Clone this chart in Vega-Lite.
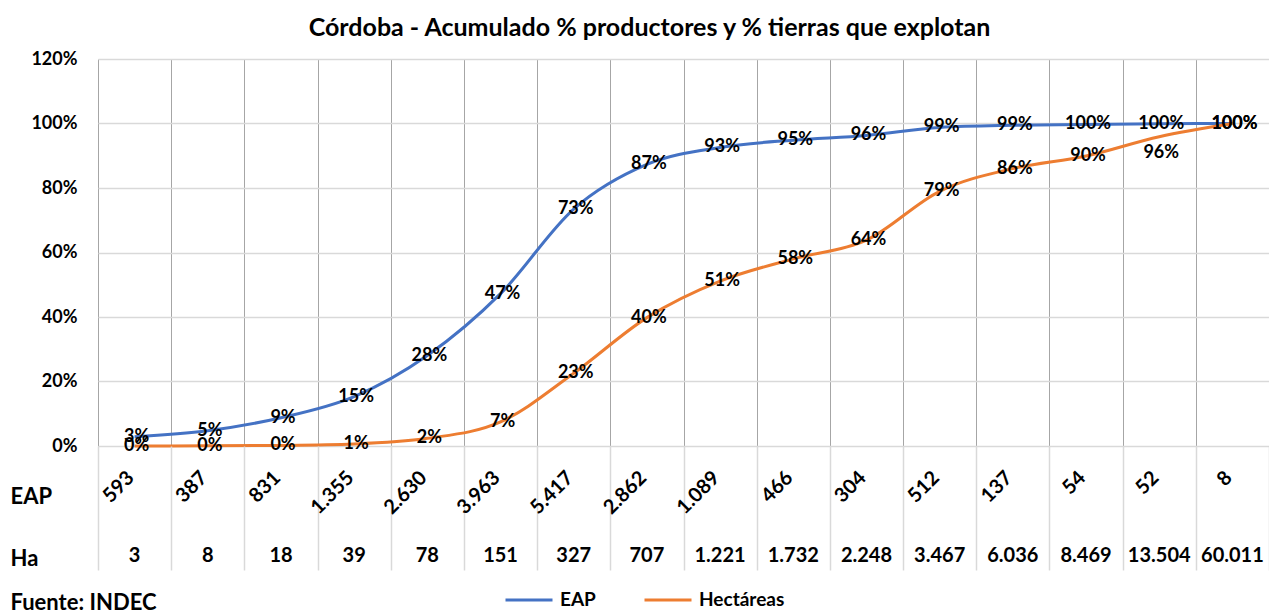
{
  "$schema": "https://vega.github.io/schema/vega-lite/v6.json",
  "padding": {"left": 10, "top": 16, "right": 0, "bottom": 0},
  "background": "white",
  "bounds": "flush",
  "config": {
    "view": {"stroke": null},
    "font": "Lato",
    "locale": {"number": {"decimal": ",", "thousands": ".", "grouping": [3], "currency": ["$", ""]}}
  },
  "title": {
    "text": "Córdoba - Acumulado % productores y % tierras que explotan",
    "anchor": "middle",
    "font": "Lato",
    "fontSize": 25,
    "fontWeight": "bold",
    "color": "#000000",
    "offset": 9,
    "dx": 10
  },
  "spacing": 0,
  "data": {
    "values": [
      {"col": 1, "n_eap": 593, "ha": 3, "EAP": 0.0287, "Hectáreas": 0.00015},
      {"col": 2, "n_eap": 387, "ha": 8, "EAP": 0.0474, "Hectáreas": 0.0004},
      {"col": 3, "n_eap": 831, "ha": 18, "EAP": 0.0877, "Hectáreas": 0.0017},
      {"col": 4, "n_eap": 1355, "ha": 39, "EAP": 0.1532, "Hectáreas": 0.0062},
      {"col": 5, "n_eap": 2630, "ha": 78, "EAP": 0.2805, "Hectáreas": 0.0237},
      {"col": 6, "n_eap": 3963, "ha": 151, "EAP": 0.4724, "Hectáreas": 0.0747},
      {"col": 7, "n_eap": 5417, "ha": 327, "EAP": 0.7346, "Hectáreas": 0.2257},
      {"col": 8, "n_eap": 2862, "ha": 707, "EAP": 0.8731, "Hectáreas": 0.3981},
      {"col": 9, "n_eap": 1089, "ha": 1221, "EAP": 0.9258, "Hectáreas": 0.5114},
      {"col": 10, "n_eap": 466, "ha": 1732, "EAP": 0.9484, "Hectáreas": 0.5802},
      {"col": 11, "n_eap": 304, "ha": 2248, "EAP": 0.9631, "Hectáreas": 0.6385},
      {"col": 12, "n_eap": 512, "ha": 3467, "EAP": 0.9879, "Hectáreas": 0.7898},
      {"col": 13, "n_eap": 137, "ha": 6036, "EAP": 0.9945, "Hectáreas": 0.8603},
      {"col": 14, "n_eap": 54, "ha": 8469, "EAP": 0.9971, "Hectáreas": 0.8992},
      {"col": 15, "n_eap": 52, "ha": 13504, "EAP": 0.9996, "Hectáreas": 0.9591},
      {"col": 16, "n_eap": 8, "ha": 60011, "EAP": 1.0, "Hectáreas": 1.0}
    ]
  },
  "vconcat": [
    {
      "width": 1171,
      "height": 387,
      "transform": [{"fold": ["EAP", "Hectáreas"], "as": ["serie", "pct"]}],
      "encoding": {
        "x": {
          "field": "col",
          "type": "quantitative",
          "scale": {"domain": [0.5, 16.5], "nice": false, "zero": false},
          "axis": {
            "values": [0.5, 1.5, 2.5, 3.5, 4.5, 5.5, 6.5, 7.5, 8.5, 9.5, 10.5, 11.5, 12.5, 13.5, 14.5, 15.5, 16.5],
            "grid": true, "gridColor": "#a6a6a6", "gridWidth": 1,
            "labels": false, "ticks": false, "domain": false, "title": null,
            "minExtent": 0, "maxExtent": 0, "offset": 0
          }
        },
        "y": {
          "field": "pct",
          "type": "quantitative",
          "scale": {"domain": [0, 1.2], "nice": false},
          "axis": {
            "values": [0, 0.2, 0.4, 0.6, 0.8, 1.0, 1.2],
            "format": ".0%",
            "grid": true, "gridColor": "#d9d9d9", "gridWidth": 1.5,
            "ticks": false, "domain": false, "title": null,
            "labelFont": "Lato", "labelFontSize": 18, "labelFontWeight": "bold", "labelColor": "#000000",
            "labelPadding": 21, "labelAlign": "right"
          }
        }
      },
      "layer": [
        {
          "mark": {"type": "line", "strokeWidth": 3, "interpolate": "monotone"},
          "encoding": {
            "color": {
              "field": "serie",
              "type": "nominal",
              "scale": {"domain": ["EAP", "Hectáreas"], "range": ["#4472C4", "#ED7D31"]},
              "legend": {
                "title": null,
                "orient": "none",
                "direction": "horizontal",
                "legendX": 406,
                "legendY": 516,
                "symbolType": "stroke",
                "symbolSize": 2209,
                "symbolStrokeWidth": 3,
                "labelFont": "Lato",
                "labelFontSize": 19,
                "labelFontWeight": "bold",
                "labelColor": "#000000",
                "labelOffset": 6,
                "columnPadding": 42
              }
            }
          }
        },
        {
          "transform": [{"filter": "!(datum.serie == 'Hectáreas' && datum.col == 15)"}],
          "mark": {"type": "text", "font": "Lato", "fontSize": 18, "fontWeight": "bold", "color": "#000000", "dx": 2},
          "encoding": {"text": {"field": "pct", "type": "quantitative", "format": ".0%"}}
        },
        {
          "transform": [{"filter": "datum.serie == 'Hectáreas' && datum.col == 15"}],
          "mark": {"type": "text", "font": "Lato", "fontSize": 18, "fontWeight": "bold", "color": "#000000", "dx": 2, "dy": 16},
          "encoding": {"text": {"field": "pct", "type": "quantitative", "format": ".0%"}}
        }
      ]
    },
    {
      "width": 1171,
      "height": 124,
      "encoding": {
        "x": {
          "field": "col",
          "type": "quantitative",
          "scale": {"domain": [0.5, 16.5], "nice": false, "zero": false},
          "axis": {
            "values": [0.5, 1.5, 2.5, 3.5, 4.5, 5.5, 6.5, 7.5, 8.5, 9.5, 10.5, 11.5, 12.5, 13.5, 14.5, 15.5, 16.5],
            "grid": true, "gridColor": "#d9d9d9", "gridWidth": 1.5,
            "labels": false, "ticks": false, "domain": false,
            "title": "Fuente: INDEC",
            "titleFont": "Lato", "titleFontSize": 22, "titleFontWeight": "bold", "titleColor": "#000000",
            "titleAnchor": "start", "titleAlign": "left", "titleBaseline": "middle",
            "titleX": -88, "titleY": 32
          }
        }
      },
      "layer": [
        {
          "mark": {"type": "text", "angle": -45, "align": "right", "baseline": "middle", "dx": -1, "dy": -4, "font": "Lato", "fontSize": 20, "fontWeight": "bold", "color": "#000000"},
          "encoding": {
            "y": {
              "datum": "EAP",
              "type": "nominal",
              "scale": {"domain": ["EAP", "Ha"], "paddingInner": 0, "paddingOuter": 0},
              "axis": {
                "title": null, "ticks": false, "domain": false, "grid": false,
                "labelAlign": "left", "labelPadding": 88, "labelOffset": 19,
                "labelFont": "Lato", "labelFontSize": 22, "labelFontWeight": "bold", "labelColor": "#000000"
              }
            },
            "text": {"field": "n_eap", "type": "quantitative", "format": ",d"}
          }
        },
        {
          "mark": {"type": "text", "align": "center", "baseline": "middle", "dy": 17, "font": "Lato", "fontSize": 20, "fontWeight": "bold", "color": "#000000"},
          "encoding": {
            "y": {"datum": "Ha", "type": "nominal"},
            "text": {"field": "ha", "type": "quantitative", "format": ",d"}
          }
        }
      ]
    }
  ]
}
